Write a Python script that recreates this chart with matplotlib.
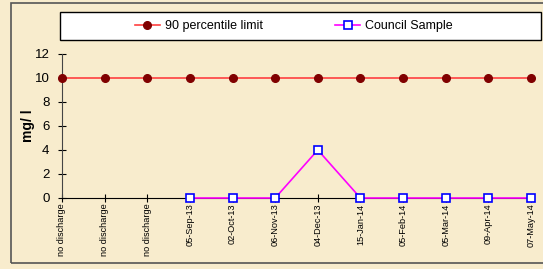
import numpy as np
import matplotlib.pyplot as plt
from matplotlib.patches import Rectangle

plt.rcParams['font.family'] = ['Liberation Sans', 'DejaVu Sans']

# data
dates = ['no discharge', 'no discharge', 'no discharge', '05-Sep-13', '02-Oct-13',
         '06-Nov-13', '04-Dec-13', '15-Jan-14', '05-Feb-14', '05-Mar-14',
         '09-Apr-14', '07-May-14']
limit = [10, 10, 10, 10, 10, 10, 10, 10, 10, 10, 10, 10]
council = [np.nan, np.nan, np.nan, 0, 0, 0, 4, 0, 0, 0, 0, 0]

fig = plt.figure(figsize=(5.43, 2.69), dpi=100)
fig.patch.set_facecolor('#F8ECCD')

# outer frame and legend box
fig.patches.append(Rectangle((11/543, 6/269), 1.0, 260/269, transform=fig.transFigure,
                             fill=False, edgecolor='#555555', linewidth=1.2))
fig.patches.append(Rectangle((60/543, 229/269), 481/543, 28/269, transform=fig.transFigure,
                             facecolor='white', edgecolor='black', linewidth=1.0))

ax = fig.add_axes([62/543, 71/269, 469/543, 144/269])
ax.set_facecolor('none')
x = np.arange(len(dates))

ax.plot(x, limit, color='#FF4040', lw=1.2, marker='o', ms=5.5,
        mfc='#800000', mec='#800000', label='90 percentile limit', clip_on=False, zorder=3)
ax.plot(x, council, color='#FF00FF', lw=1.2, marker='s', ms=5.5,
        mfc='white', mec='#0000FF', mew=1.2, label='Council Sample', clip_on=False, zorder=4)

ax.set_xlim(0, len(dates) - 1)
ax.set_ylim(0, 12)
ax.set_yticks(range(0, 13, 2))
ax.set_xticks(x)
ax.set_xticklabels(dates, rotation=90, fontsize=6.6)
ax.tick_params(axis='y', labelsize=9.5, direction='inout', length=6, width=0.8, pad=6)
ax.tick_params(axis='x', direction='inout', length=6, width=0.8, pad=1)
ax.set_ylabel('mg/ l', fontsize=10, fontweight='bold', labelpad=0)

for s in ['top', 'right']:
    ax.spines[s].set_visible(False)
ax.spines['left'].set_color('#444444')
ax.spines['bottom'].set_color('black')

fig.legend(loc='center', bbox_to_anchor=(294/543, 243/269), ncol=2, fontsize=9,
           frameon=False, handlelength=2.0, handletextpad=0.4, columnspacing=5.8)

fig.savefig('out.png', dpi=100, facecolor=fig.get_facecolor())
